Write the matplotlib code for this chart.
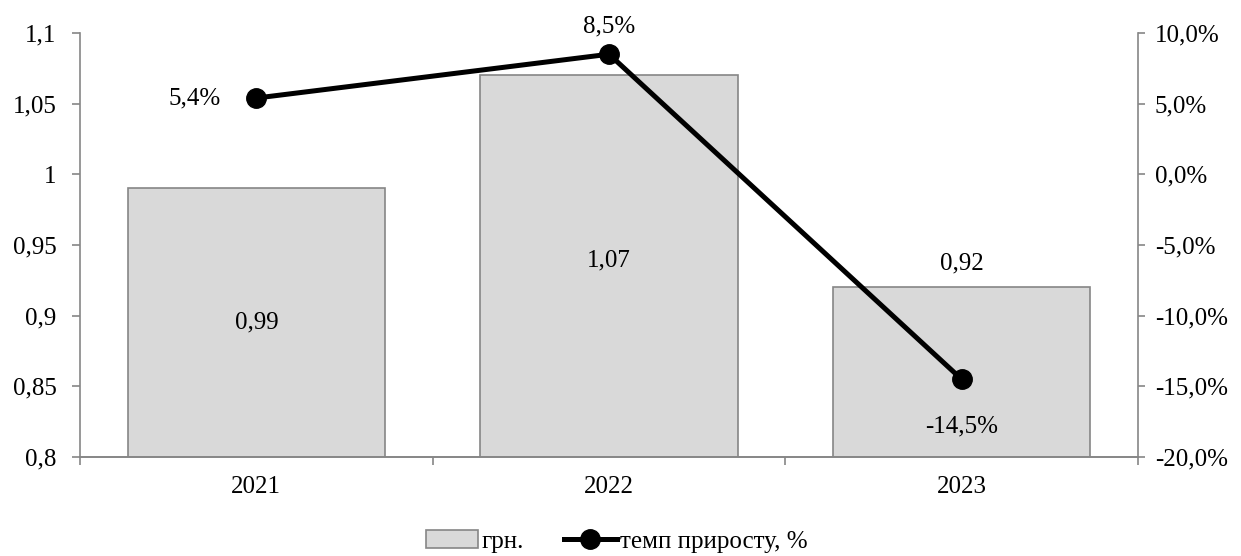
import matplotlib.pyplot as plt
from matplotlib.ticker import FuncFormatter

plt.rcParams['font.family'] = ['Liberation Serif', 'DejaVu Serif']
plt.rcParams['font.size'] = 18

years = ['2021', '2022', '2023']
uah = [0.99, 1.07, 0.92]
growth = [5.4, 8.5, -14.5]

grey = '#868686'

fig = plt.figure(figsize=(12.41, 5.56), dpi=100)
ax = fig.add_axes([0.0645, 0.178, 0.8525, 0.7626])
ax2 = ax.twinx()

x = list(range(len(years)))
bars = ax.bar(x, uah, width=0.73, color='#d9d9d9', edgecolor=grey, linewidth=1.2, label='грн.')
ax.set_ylim(0.8, 1.1)
ax.set_xlim(-0.5, 2.5)
ax.set_yticks([0.8, 0.85, 0.9, 0.95, 1.0, 1.05, 1.1])
ax.yaxis.set_major_formatter(FuncFormatter(lambda v, p: ('%g' % round(v, 2)).replace('.', ',')))
ax.set_xticks(x)
ax.set_xticklabels(years)
ax.set_xticks([-0.5, 0.5, 1.5, 2.5], minor=True)
ax.tick_params(axis='x', which='major', length=0, pad=14)
ax.tick_params(axis='x', which='minor', length=6, color=grey, width=1.2, direction='out')
ax.tick_params(axis='y', length=6, color=grey, width=1.2, pad=11)

line, = ax2.plot(x, growth, color='black', lw=3.6, marker='o', markersize=14, label='темп приросту, %')
ax2.set_ylim(-20, 10)
ax2.set_yticks(range(-20, 11, 5))
ax2.yaxis.set_major_formatter(FuncFormatter(lambda v, p: ('%.1f%%' % v).replace('.', ',')))
ax2.tick_params(axis='y', length=5, color=grey, width=1.2, pad=7)

for a in (ax, ax2):
    a.spines['top'].set_visible(False)
    for s in a.spines.values():
        s.set_color(grey)
        s.set_linewidth(1.2)
ax.spines['right'].set_visible(False)
ax2.spines['left'].set_visible(False)

# подписи значень стовпців
fmt = lambda v: ('%.2f' % v).replace('.', ',')
ax.text(0, (0.8 + uah[0]) / 2, fmt(uah[0]), ha='center', va='center')
ax.text(1, (0.8 + uah[1]) / 2 + 0.004, fmt(uah[1]), ha='center', va='center')
ax.text(2, uah[2] + 0.009, fmt(uah[2]), ha='center', va='bottom')

# підписи темпу приросту
gfmt = lambda v: ('%.1f%%' % v).replace('.', ',')
ax2.annotate(gfmt(growth[0]), (0, growth[0]), xytext=(-26, 0), textcoords='offset points', ha='right', va='center')
ax2.annotate(gfmt(growth[1]), (1, growth[1]), xytext=(0, 12), textcoords='offset points', ha='center', va='bottom')
ax2.annotate(gfmt(growth[2]), (2, growth[2]), xytext=(0, -26), textcoords='offset points', ha='center', va='top')

fig.legend(handles=[bars, line], loc='lower center', bbox_to_anchor=(0.497, -0.035), ncol=2,
           frameon=False, handlelength=2.1, handletextpad=0.15, columnspacing=1.6)

fig.savefig('out.png', dpi=100)
